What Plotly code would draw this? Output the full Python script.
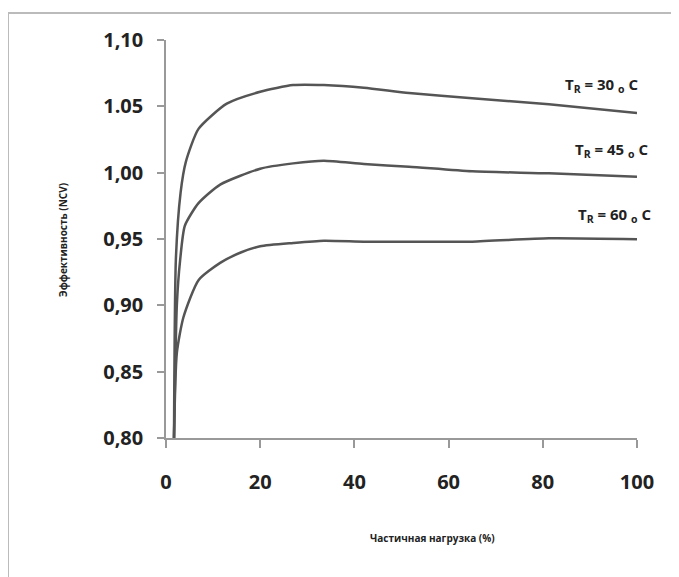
import plotly.graph_objects as go

# Data
x_30 = [1.7, 2.1, 3.1, 4.2, 6.9, 12.9, 20, 27, 33.5, 42, 51.6, 65, 81.3, 100]
y_30 = [0.80, 0.935, 0.985, 1.008, 1.033, 1.052, 1.061, 1.066, 1.066, 1.064, 1.060, 1.056, 1.0515, 1.045]

x_45 = [1.7, 2.3, 3.0, 4.0, 6.9, 11.5, 20, 27, 33.5, 42, 51.6, 65, 81.3, 100]
y_45 = [0.80, 0.90, 0.934, 0.960, 0.977, 0.991, 1.003, 1.007, 1.009, 1.0065, 1.0045, 1.001, 0.9995, 0.997]

x_60 = [1.7, 2.3, 3.7, 6.9, 11.5, 16, 20, 27, 33.5, 42, 51.6, 65, 81.3, 100]
y_60 = [0.80, 0.864, 0.891, 0.919, 0.932, 0.940, 0.9445, 0.947, 0.9487, 0.948, 0.948, 0.948, 0.9505, 0.9498]

series_labels = ["T<sub>R</sub> = 30 <sub>o</sub> C", "T<sub>R</sub> = 45 <sub>o</sub> C", "T<sub>R</sub> = 60 <sub>o</sub> C"]

y_tickvals = [0.80, 0.85, 0.90, 0.95, 1.00, 1.05, 1.10]
y_ticktext = ["0,80", "0,85", "0,90", "0,95", "1,00", "1.05", "1,10"]
x_tickvals = [0, 20, 40, 60, 80, 100]
x_ticktext = ["0", "20", "40", "60", "80", "100"]

x_title = "Частичная нагрузка (%)"
y_title = "Эффективность (NCV)"

line_color = "#555555"
font_family = "Open Sans"

fig = go.Figure()
for xs, ys in [(x_30, y_30), (x_45, y_45), (x_60, y_60)]:
    fig.add_trace(go.Scatter(
        x=xs, y=ys, mode="lines",
        line=dict(color=line_color, width=2.5, shape="spline", smoothing=0.6),
        showlegend=False, hoverinfo="skip",
    ))

# page offset of the figure inside the window
OFF = 8
# Plot area in screen pixels: x 166..637, y 40..438
W, H = 679 - OFF, 577 - OFF
L, T = 166 - OFF, 40 - OFF
R = W - (637 - OFF)
B = H - (438 - OFF)
pw = W - L - R
ph = H - T - B

def px_to_paper(px, py):
    return (px - OFF - L) / pw, 1 - (py - OFF - T) / ph

label_pos = [(640, 85), (650, 150), (653, 215)]
for text, (px, py) in zip(series_labels, label_pos):
    xp, yp = px_to_paper(px, py)
    fig.add_annotation(
        x=xp, y=yp, xref="paper", yref="paper", text=text,
        showarrow=False, xanchor="right", yanchor="middle",
        font=dict(family=font_family, size=15, color="#222222", weight="bold"),
    )

# outer frame (top and left edges visible)
x0, y0 = px_to_paper(8, 13)
x1, _ = px_to_paper(700, 13)
_, y1 = px_to_paper(8, 600)
fig.add_shape(type="line", xref="paper", yref="paper", x0=x0, y0=y0, x1=x1, y1=y0,
              line=dict(color="#bbbbbb", width=2))
fig.add_shape(type="line", xref="paper", yref="paper", x0=x0, y0=y0, x1=x0, y1=y1,
              line=dict(color="#bbbbbb", width=2))

# axis titles as annotations
tx, ty = px_to_paper(432, 538)
fig.add_annotation(x=tx, y=ty, xref="paper", yref="paper", text=x_title, showarrow=False,
                   xanchor="center", yanchor="middle",
                   font=dict(family=font_family, size=10, color="#222222", weight="bold"))
tx, ty = px_to_paper(63, 240)
fig.add_annotation(x=tx, y=ty, xref="paper", yref="paper", text=y_title, showarrow=False,
                   textangle=-90, xanchor="center", yanchor="middle",
                   font=dict(family=font_family, size=10, color="#222222", weight="bold"))

fig.update_xaxes(
    range=[0, 100], tickvals=x_tickvals, ticktext=x_ticktext,
    showgrid=False, zeroline=False, showline=True, linecolor="#999999", linewidth=1.5,
    ticks="outside", ticklen=8, tickcolor="#999999", tickwidth=1.5,
    tickfont=dict(family=font_family, size=20, color="#222222", weight="bold"),
    ticklabelstandoff=17,
)
fig.update_yaxes(
    range=[0.80, 1.10], tickvals=y_tickvals, ticktext=y_ticktext,
    showgrid=False, zeroline=False, showline=True, linecolor="#999999", linewidth=1.5,
    ticks="outside", ticklen=7, tickcolor="#999999", tickwidth=1.5,
    tickfont=dict(family=font_family, size=20, color="#222222", weight="bold"),
    ticklabelstandoff=10,
)

fig.update_layout(
    width=W, height=H,
    margin=dict(l=L, r=R, t=T, b=B),
    plot_bgcolor="white", paper_bgcolor="white",
    showlegend=False,
)

fig.write_html("out.html")
